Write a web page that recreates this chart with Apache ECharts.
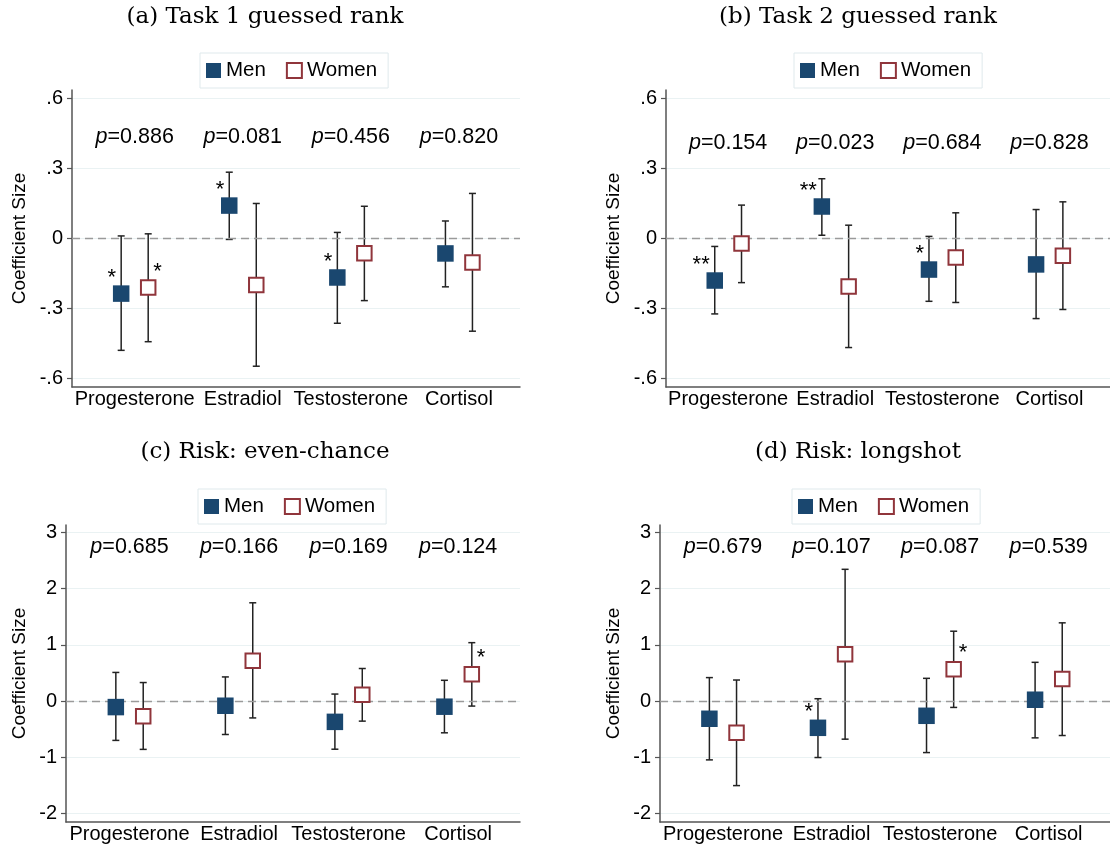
<!DOCTYPE html>
<html>
<head>
<meta charset="utf-8">
<script src="https://cdn.jsdelivr.net/npm/echarts@6/dist/echarts.min.js"></script>
<style>html,body{margin:0;padding:0;background:#fff}#chart{width:1110px;height:848px}</style>
</head>
<body>
<div id="chart"></div>
<script>
// ---------- DATA ----------
const categories = ['Progesterone', 'Estradiol', 'Testosterone', 'Cortisol'];

// (a) Task 1 guessed rank
const aMen      = [-0.236,  0.141, -0.167, -0.064];
const aMenLo    = [-0.479, -0.004, -0.363, -0.207];
const aMenHi    = [ 0.011,  0.284,  0.026,  0.075];
const aWomen    = [-0.210, -0.199, -0.063, -0.103];
const aWomenLo  = [-0.442, -0.547, -0.266, -0.397];
const aWomenHi  = [ 0.020,  0.150,  0.138,  0.193];
const aP        = ['0.886', '0.081', '0.456', '0.820'];
const aMenStars   = ['*', '*', '*', ''];
const aWomenStars = ['*', '', '', ''];

// (b) Task 2 guessed rank
const bMen      = [-0.180,  0.137, -0.133, -0.111];
const bMenLo    = [-0.323,  0.014, -0.269, -0.343];
const bMenHi    = [-0.034,  0.256,  0.009,  0.124];
const bWomen    = [-0.021, -0.206, -0.081, -0.074];
const bWomenLo  = [-0.189, -0.467, -0.274, -0.304];
const bWomenHi  = [ 0.143,  0.057,  0.110,  0.157];
const bP        = ['0.154', '0.023', '0.684', '0.828'];
const bMenStars   = ['**', '**', '*', ''];
const bWomenStars = ['', '', '', ''];

// (c) Risk: even-chance
const cMen      = [-0.107, -0.083, -0.370, -0.100];
const cMenLo    = [-0.700, -0.595, -0.857, -0.565];
const cMenHi    = [ 0.510,  0.430,  0.125,  0.370];
const cWomen    = [-0.270,  0.720,  0.114,  0.477];
const cWomenLo  = [-0.860, -0.300, -0.357, -0.089];
const cWomenHi  = [ 0.330,  1.750,  0.580,  1.040];
const cP        = ['0.685', '0.166', '0.169', '0.124'];
const cMenStars   = ['', '', '', ''];
const cWomenStars = ['', '', '', '*'];

// (d) Risk: longshot
const dMen      = [-0.315, -0.476, -0.262,  0.024];
const dMenLo    = [-1.047, -1.005, -0.917, -0.655];
const dMenHi    = [ 0.418,  0.042,  0.405,  0.690];
const dWomen    = [-0.565,  0.834,  0.566,  0.393];
const dWomenLo  = [-1.505, -0.678, -0.113, -0.613];
const dWomenHi  = [ 0.375,  2.346,  1.244,  1.393];
const dP        = ['0.679', '0.107', '0.087', '0.539'];
const dMenStars   = ['', '*', '', ''];
const dWomenStars = ['', '', '*', ''];

const rankTicks = [-0.6, -0.3, 0, 0.3, 0.6];
const riskTicks = [-2, -1, 0, 1, 2, 3];

// ---------- LAYOUT / STYLE ----------
const FONT = 'Liberation Sans, Arial, Helvetica, sans-serif';
const NAVY = '#1a476f';
const MAROON = '#90353b';
const AXIS = '#555555';

const panels = [
  {title:'(a) Task 1 guessed rank', tx:265, ty:17, grid:{left:72, top:90, width:448, height:297},
   yMin:-0.636, yMax:0.636, ticks:rankTicks, pY:0.435, nameGap:43, legend:{left:200, top:53},
   men:aMen, menLo:aMenLo, menHi:aMenHi, women:aWomen, womenLo:aWomenLo, womenHi:aWomenHi,
   p:aP, menStars:aMenStars, womenStars:aWomenStars},
  {title:'(b) Task 2 guessed rank', tx:858, ty:17, grid:{left:666, top:90, width:448, height:297},
   yMin:-0.636, yMax:0.636, ticks:rankTicks, pY:0.407, nameGap:43, legend:{left:794, top:53},
   men:bMen, menLo:bMenLo, menHi:bMenHi, women:bWomen, womenLo:bWomenLo, womenHi:bWomenHi,
   p:bP, menStars:bMenStars, womenStars:bWomenStars},
  {title:'(c) Risk: even-chance', tx:265, ty:452, grid:{left:66, top:525, width:454, height:297},
   yMin:-2.153, yMax:3.135, ticks:riskTicks, pY:2.74, nameGap:37, legend:{left:198, top:489},
   men:cMen, menLo:cMenLo, menHi:cMenHi, women:cWomen, womenLo:cWomenLo, womenHi:cWomenHi,
   p:cP, menStars:cMenStars, womenStars:cWomenStars},
  {title:'(d) Risk: longshot', tx:858, ty:452, grid:{left:660, top:525, width:454, height:297},
   yMin:-2.153, yMax:3.135, ticks:riskTicks, pY:2.74, nameGap:37, legend:{left:792, top:489},
   men:dMen, menLo:dMenLo, menHi:dMenHi, women:dWomen, womenLo:dWomenLo, womenHi:dWomenHi,
   p:dP, menStars:dMenStars, womenStars:dWomenStars}
];

const OFF = 0.125;

function tickFmt(v) {
  if (Math.abs(v) < 1e-9) return '0';
  const s = String(Math.abs(v)).replace(/^0(?=\.)/, '');
  return (v < 0 ? '-' : '') + s;
}

function errRender(params, api) {
  const x = api.value(0), lo = api.value(1), hi = api.value(2);
  const a = api.coord([x, lo]), b = api.coord([x, hi]);
  const hw = 3.5;
  const st = {stroke:'#222222', lineWidth:1.5};
  return {type:'group', children:[
    {type:'line', shape:{x1:a[0], y1:a[1], x2:b[0], y2:b[1]}, style:st},
    {type:'line', shape:{x1:a[0]-hw, y1:a[1], x2:a[0]+hw, y2:a[1]}, style:st},
    {type:'line', shape:{x1:b[0]-hw, y1:b[1], x2:b[0]+hw, y2:b[1]}, style:st}
  ]};
}

const grids = [], xAxes = [], yAxes = [], series = [], legends = [], graphics = [];

panels.forEach((P, k) => {
  grids.push(Object.assign({containLabel:false}, P.grid));
  xAxes.push({
    type:'value', gridIndex:k, min:0.42, max:4.565,
    axisLine:{show:true, onZero:false, lineStyle:{color:AXIS, width:1.5}},
    axisTick:{show:false},
    splitLine:{show:false},
    axisLabel:{customValues:[1,2,3,4], formatter:v => categories[Math.round(v)-1] || '',
      fontSize:20, color:'#000', fontFamily:FONT, margin:2}
  });
  yAxes.push({
    type:'value', gridIndex:k, min:P.yMin, max:P.yMax,
    name:'Coefficient Size', nameLocation:'middle', nameGap:P.nameGap,
    nameTextStyle:{fontSize:19, color:'#000', fontFamily:FONT},
    axisLine:{show:true, onZero:false, lineStyle:{color:AXIS, width:1.5}},
    axisTick:{show:true, length:5, customValues:P.ticks, lineStyle:{color:AXIS, width:1.2}},
    axisLabel:{customValues:P.ticks, formatter:tickFmt, fontSize:20, color:'#000', fontFamily:FONT, margin:9},
    splitLine:{show:true, lineStyle:{color:'#eaf2f3', width:1.2}}
  });
  // p-value labels + zero line
  series.push({
    type:'scatter', xAxisIndex:k, yAxisIndex:k, symbolSize:1, silent:true, z:1,
    itemStyle:{color:'rgba(0,0,0,0)'},
    data:categories.map((c,i) => [i+1, P.pY]),
    label:{show:true, position:'inside', color:'#000000', fontSize:21.5, fontFamily:FONT,
      textBorderWidth:0, textShadowBlur:0, opacity:1,
      formatter:pp => '{i|p}{n|=' + P.p[pp.dataIndex] + '}',
      rich:{i:{fontStyle:'italic', fontSize:21.5, fontFamily:FONT, color:'#000000', textBorderWidth:0},
            n:{fontSize:21.5, fontFamily:FONT, color:'#000000', textBorderWidth:0}}},
    markLine:{silent:true, symbol:'none', label:{show:false},
      lineStyle:{color:'#9a9a9a', type:[8,5], width:1.3}, data:[{yAxis:0}]},
    tooltip:{show:false}
  });
  // error bars
  series.push({
    type:'custom', xAxisIndex:k, yAxisIndex:k, z:3, renderItem:errRender,
    encode:{x:0, y:[1,2]},
    data:categories.map((c,i) => [i+1-OFF, P.menLo[i], P.menHi[i]])
  });
  series.push({
    type:'custom', xAxisIndex:k, yAxisIndex:k, z:3, renderItem:errRender,
    encode:{x:0, y:[1,2]},
    data:categories.map((c,i) => [i+1+OFF, P.womenLo[i], P.womenHi[i]])
  });
  // markers
  series.push({
    name:'Men', type:'scatter', xAxisIndex:k, yAxisIndex:k, z:5,
    symbol:'rect', symbolSize:16.5,
    itemStyle:{color:NAVY, opacity:1},
    data:categories.map((c,i) => [i+1-OFF, P.men[i]]),
    label:{show:true, position:'inside', align:'right', verticalAlign:'middle',
      offset:[-5, -16], fontSize:22, color:'#000', fontFamily:FONT, textBorderWidth:0,
      formatter:pp => P.menStars[pp.dataIndex]}
  });
  series.push({
    name:'Women', type:'scatter', xAxisIndex:k, yAxisIndex:k, z:5,
    symbol:'rect', symbolSize:14.5,
    itemStyle:{color:'#ffffff', borderColor:MAROON, borderWidth:2, opacity:1},
    data:categories.map((c,i) => [i+1+OFF, P.women[i]]),
    label:{show:true, position:'inside', align:'left', verticalAlign:'middle',
      offset:[5, -16], fontSize:22, color:'#000', fontFamily:FONT, textBorderWidth:0,
      formatter:pp => P.womenStars[pp.dataIndex]}
  });
  legends.push({
    left:P.legend.left, top:P.legend.top, orient:'horizontal',
    itemWidth:15, itemHeight:15, itemGap:20, icon:'rect',
    borderColor:'#dfe9ec', borderWidth:1, padding:[7,11,7,6],
    textStyle:{fontSize:20.5, color:'#000', fontFamily:FONT},
    selectedMode:false,
    data:[
      {name:'Men', itemStyle:{color:NAVY}},
      {name:'Women', itemStyle:{color:'#ffffff', borderColor:MAROON, borderWidth:2}}
    ]
  });
  graphics.push({
    type:'text', x:P.tx, y:P.ty,
    style:{text:P.title, font:'23px "DejaVu Serif", "Liberation Serif", serif', fill:'#000',
      textAlign:'center', textVerticalAlign:'middle'}
  });
});

const chart = echarts.init(document.getElementById('chart'), null, {renderer:'canvas'});
chart.setOption({
  backgroundColor:'#ffffff',
  animation:false,
  grid:grids, xAxis:xAxes, yAxis:yAxes, series:series, legend:legends, graphic:graphics
});
</script>
</body>
</html>
